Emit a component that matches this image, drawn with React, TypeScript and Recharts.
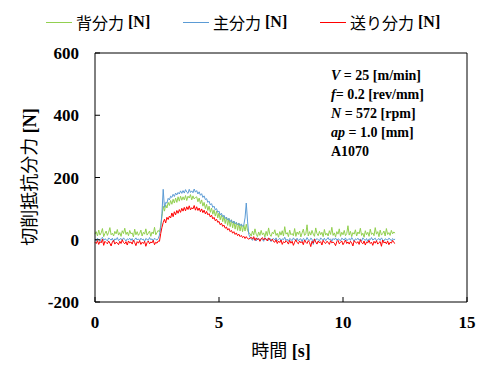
import React from 'react';
import { LineChart, Line, XAxis, YAxis } from 'recharts';

// sampling step 0.05 s, t = 0.00 … 12.10
const STEP = 0.05;

const backForce = [
  // 0.00 – 2.55
  18, 26, 12, 31, 15, 22, 36, 10, 20, 28, 14, 24, 39, 16, 21, 12, 27, 19, 33, 15,
  23, 11, 29, 20, 37, 17, 25, 13, 30, 19, 22, 9, 34, 16, 26, 14, 20, 31, 12, 24,
  18, 35, 15, 21, 28, 11, 25, 19, 40, 16, 23, 30,
  // 2.60 – 6.20
  25, 45, 75, 108, 92, 112, 102, 120, 110, 126,
  114, 130, 118, 134, 120, 138, 124, 140, 127, 138,
  128, 142, 126, 140, 134, 145, 128, 141, 131, 136,
  138, 122, 134, 116, 128, 108, 120, 100, 114, 94,
  108, 88, 102, 82, 96, 76, 92, 70, 86, 64,
  80, 58, 76, 52, 72, 46, 68, 42, 64, 38,
  60, 34, 56, 30, 54, 28, 50, 26, 48, 28,
  50, 30, 22,
  // 6.25 – 12.10
  20, 12, 28, 15, 35, 18, 10, 25, 14, 30, 16, 22, 9, 27, 13, 38, 17, 11, 24, 19,
  32, 14, 21, 8, 26, 15, 29, 12, 42, 18, 23, 10, 31, 16, 20, 13, 36, 11, 25, 17,
  28, 9, 22, 34, 14, 19, 48, 12, 26, 15, 30, 18, 11, 38, 20, 13, 27, 16, 24, 10,
  33, 15, 21, 12, 29, 17, 40, 14, 22, 9, 26, 18, 35, 11, 24, 16, 30, 13, 20, 45,
  15, 27, 10, 23, 18, 32, 12, 25, 19, 37, 14, 21, 8, 29, 16, 24, 11, 34, 17, 22,
  13, 39, 18, 26, 10, 31, 15, 20, 28, 12, 36, 17, 23, 14, 30, 19, 25, 21,
];

const mainForce = [
  2, -3, 5, 0, -5, 4, 8, -2, 3, 1, -4, 6, 2, -1, 5, -6, 3, 0, 7, -3,
  2, 4, -2, 6, 1, -4, 3, 0, 5, -2, 4, -5, 1, 6, -1, 3, -3, 5, 0, 2,
  -6, 4, 1, -2, 7, 0, 3, -4, 5, 1, -1, 4,
  15, 40, 85, 162, 104, 120, 118, 133, 128, 140,
  136, 146, 139, 150, 144, 152, 147, 157, 149, 158,
  150, 161, 153, 149, 162, 152, 157, 151, 163, 153,
  158, 147, 154, 143, 148, 136, 141, 129, 132, 120,
  124, 112, 116, 104, 108, 96, 100, 88, 92, 80,
  85, 74, 79, 68, 73, 63, 69, 58, 64, 54,
  60, 51, 56, 48, 53, 45, 51, 43, 48, 70,
  118, 60, 18,
  8, 3, -2, 5, 0, -4, 6, 2, -3, 4, 1, -5, 7, 0, 3, -2, 5, -6, 2, 4,
  -1, 6, -3, 1, 5, -4, 3, 0, 8, -2, 2, -5, 4, 1, -3, 6, 0, -1, 5, -4,
  2, 3, -6, 4, 1, -2, 7, 0, -3, 5, 2, -15, 3, -1, 4, 0, -4, 6, 1, -2,
  5, -3, 2, 7, -1, 3, -5, 4, 0, 6, -2, 3, 1, -4, 5, 2, -1, 6, -3, 0,
  4, -2, 7, 1, -5, 3, 0, 5, -1, 2, -4, 6, 1, -2, 4, -6, 3, 0, 7, -1,
  2, 5, -3, 1, 4, -2, 6, 0, -4, 3, 1, -1, 5, 2, -3, 4, 0, 2,
];

const feedForce = [
  -8, -12, -3, -15, -6, -10, 2, -18, -5, -9, -13, -4, -11, -20, -7, -2, -14, -8, -10, -16,
  -5, -12, 0, -9, -13, -6, -17, -4, -10, -7, -14, -1, -9, -19, -6, -11, -3, -15, -8, -12,
  -5, -21, -9, -4, -13, -7, -10, -2, -16, -8, -11, -4,
  -5, 20, 40, 55, 66, 54, 72, 65, 76, 70,
  86, 74, 90, 80, 94, 85, 97, 88, 101, 92,
  104, 93, 106, 97, 109, 96, 103, 99, 110, 95,
  106, 94, 102, 90, 99, 87, 95, 83, 91, 80,
  84, 73, 79, 67, 72, 61, 66, 56, 59, 48,
  53, 43, 47, 37, 41, 31, 36, 26, 30, 21,
  26, 17, 22, 13, 18, 10, 14, 7, 11, 4,
  10, 4, 2,
  5, 8, 2, 10, -2, 6, 0, 4, -5, 3, 7, -1, 5, 2, -4, 6, 0, -3, 2, -6,
  -8, 0, -12, -4, -9, -1, -15, -6, -10, -3, -7, -14, -2, -11, -5, -18, -8, 0, -9, -13,
  -4, -10, -6, -16, -1, -8, -12, -3, -9, -22, -5, -11, 2, -7, -14, -4, -10, -6, -17, -2,
  -9, -12, -5, -8, -15, -3, -10, -7, -11, -19, -6, -2, -13, -8, -4, -16, -9, -1, -12, -7,
  -14, -5, -10, -20, -3, -8, -11, -6, -15, 0, -9, -13, -4, -17, -7, -10, -2, -12, -8, -18,
  -5, -11, -3, -14, -9, -6, -21, -1, -10, -7, -13, -4, -16, -8, -11, -2, -9, -12,
];

const xTicks = [0, 5, 10, 15];
const yTicks = [-200, 0, 200, 400, 600];

const series = [
  { key: 'back', name: '背分力', color: '#92D050' },
  { key: 'main', name: '主分力', color: '#5B9BD5' },
  { key: 'feed', name: '送り分力', color: '#FF0000' },
];

const data = backForce.map((v, i) => ({
  t: Math.round(i * STEP * 100) / 100,
  back: v,
  main: mainForce[i],
  feed: feedForce[i],
}));

const serif = '"Liberation Serif", "Times New Roman", serif';
const jp = '"Noto Sans CJK JP", sans-serif';
const tickStyle = { fontFamily: serif, fontWeight: 700, fontSize: 17, fill: '#000' };

const legendLeft = [46, 183, 320];

const notes = [
  { v: 'V', rest: ' = 25 [m/min]' },
  { v: 'f', rest: '= 0.2 [rev/mm]' },
  { v: 'N', rest: ' = 572 [rpm]' },
  { v: 'ap', rest: ' = 1.0 [mm]' },
  { v: '', rest: 'A1070' },
];

export default function App() {
  return (
    <div style={{ position: 'absolute', left: 0, top: 0, width: 491, height: 378, background: '#fff' }}>
      <LineChart width={491} height={378} data={data} margin={{ top: 52, right: 23, bottom: 75, left: 94 }}>
        <XAxis
          dataKey="t"
          type="number"
          domain={[0, 15]}
          ticks={xTicks}
          height={1}
          tickSize={-5}
          tickMargin={19}
          stroke="#000"
          tick={tickStyle}
        />
        <XAxis xAxisId="top" orientation="top" type="number" domain={[0, 15]} height={1} tick={false} tickLine={false} stroke="#000" />
        <YAxis
          type="number"
          domain={[-200, 600]}
          ticks={yTicks}
          width={1}
          tickSize={-5}
          tickMargin={21}
          stroke="#000"
          tick={tickStyle}
        />
        <YAxis yAxisId="right" orientation="right" domain={[-200, 600]} width={1} tick={false} tickLine={false} stroke="#000" />
        {series.map((s) => (
          <Line
            key={s.key}
            dataKey={s.key}
            name={s.name}
            stroke={s.color}
            strokeWidth={1}
            dot={false}
            isAnimationActive={false}
          />
        ))}
      </LineChart>

      {/* legend */}
      {series.map((s, i) => (
        <div key={s.key} style={{ position: 'absolute', left: legendLeft[i], top: 10, height: 24, display: 'flex', alignItems: 'center', whiteSpace: 'nowrap' }}>
          <span style={{ display: 'inline-block', width: 26, height: 0, borderTop: `1.5px solid ${s.color}`, marginRight: 4 }} />
          <span style={{ fontFamily: jp, fontSize: 16 }}>{s.name}</span>
          <span style={{ fontFamily: serif, fontWeight: 700, fontSize: 16 }}>&nbsp;[N]</span>
        </div>
      ))}

      {/* condition notes */}
      <div style={{ position: 'absolute', left: 331, top: 66, fontFamily: serif, fontWeight: 700, fontSize: 14, lineHeight: '19px' }}>
        {notes.map((n, i) => (
          <div key={i}>
            {n.v && <i>{n.v}</i>}
            {n.rest}
          </div>
        ))}
      </div>

      {/* y axis title */}
      <div style={{ position: 'absolute', left: 28, top: 177, transform: 'translate(-50%, -50%) rotate(-90deg)', whiteSpace: 'nowrap', fontSize: 18 }}>
        <span style={{ fontFamily: jp }}>切削抵抗分力</span>
        <span style={{ fontFamily: serif, fontWeight: 700 }}>&nbsp;[N]</span>
      </div>

      {/* x axis title */}
      <div style={{ position: 'absolute', left: 281, top: 349, transform: 'translate(-50%, -50%)', whiteSpace: 'nowrap', fontSize: 18 }}>
        <span style={{ fontFamily: jp }}>時間</span>
        <span style={{ fontFamily: serif, fontWeight: 700 }}>&nbsp;[s]</span>
      </div>
    </div>
  );
}
